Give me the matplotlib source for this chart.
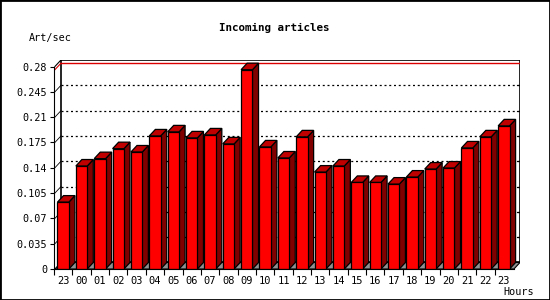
import matplotlib
matplotlib.use("Agg")
import matplotlib.pyplot as plt
from matplotlib.patches import Polygon, Rectangle

# articles per second for each hour (first bar is yesterday's 23h)
hours = ['23', '00', '01', '02', '03', '04', '05', '06', '07', '08', '09', '10',
         '11', '12', '13', '14', '15', '16', '17', '18', '19', '20', '21', '22', '23']
rate = [0.0925, 0.1424, 0.1526, 0.1664, 0.1618, 0.184, 0.1896, 0.1813, 0.1854,
        0.173, 0.2756, 0.1688, 0.1535, 0.1827, 0.134, 0.1424, 0.1197, 0.1197,
        0.1174, 0.1271, 0.1382, 0.1396, 0.1674, 0.1827, 0.1979]
yticks = [0, 0.035, 0.07, 0.105, 0.14, 0.175, 0.21, 0.245, 0.28]
ytick_labels = ['0', '0.035', '0.07', '0.105', '0.14', '0.175', '0.21', '0.245', '0.28']

ymax = 0.28
# depth of the fake 3d in data units
dx = 0.33
dy = 0.009
bw = 0.62
xl, xr = -0.45, len(rate) - 0.45

mono = 'DejaVu Sans Mono'
plt.rcParams['font.family'] = mono

fig = plt.figure(figsize=(5.5, 3), dpi=100)
W, H = 550, 300
ax = fig.add_axes([54 / W, 31 / H, 466 / W, 209 / H])
ax.set_xlim(xl, xr + dx)
ax.set_ylim(0, ymax + dy)
ax.patch.set_visible(False)

for s in ['top', 'right']:
    ax.spines[s].set_visible(False)
ax.spines['left'].set_bounds(0, ymax)
ax.spines['bottom'].set_bounds(xl, xr)
ax.spines['left'].set_zorder(6)
ax.spines['bottom'].set_zorder(6)

# back wall
back = Rectangle((xl + dx, dy), xr - xl, ymax, facecolor='white', edgecolor='black', lw=1.2, zorder=0)
ax.add_patch(back)
# left wall top edge
ax.plot([xl, xl + dx], [ymax, ymax + dy], color='black', lw=0.8, zorder=1)

# grid lines on the back wall + little diagonal ticks on the side wall
for v in yticks[1:-1]:
    ax.plot([xl + dx, xr + dx], [v + dy, v + dy], color='black', lw=0.9,
            linestyle=(0, (1.6, 2.2)), zorder=1)
    ax.plot([xl, xl + dx], [v, v + dy], color='black', lw=0.6, zorder=1)
    ax.plot([xr + dx - 0.17, xr + dx], [v + dy, v + dy], color='black', lw=0.8, zorder=1)

# max line
peak = max(rate)
ax.plot([xl + dx, xr + dx], [peak + dy, peak + dy], color='#dd0000', lw=1.0, zorder=1)
ax.plot([xl, xl + dx], [peak, peak + dy], color='#dd0000', lw=0.8, zorder=1)

# floor
floor = Polygon([(xl, 0), (xr, 0), (xr + dx, dy), (xl + dx, dy)], closed=True,
                facecolor='#909090', edgecolor='black', lw=0.8, zorder=2)
ax.add_patch(floor)

x = list(range(len(rate)))
ax.bar(x, rate, width=bw, color='#ff0000', edgecolor='black', lw=0.9, zorder=4)
for i, v in zip(x, rate):
    x0, x1 = i - bw / 2, i + bw / 2
    top = Polygon([(x0, v), (x1, v), (x1 + dx, v + dy), (x0 + dx, v + dy)], closed=True,
                  facecolor='#c00000', edgecolor='black', lw=0.9, zorder=3)
    side = Polygon([(x1, 0), (x1 + dx, dy), (x1 + dx, v + dy), (x1, v)], closed=True,
                   facecolor='#800000', edgecolor='black', lw=0.9, zorder=3)
    ax.add_patch(side)
    ax.add_patch(top)

ax.set_yticks(yticks)
ax.set_yticklabels(ytick_labels)
ax.tick_params(axis='y', length=3, width=0.8, pad=2, labelsize=7.3)
ax.set_xticks(x)
ax.set_xticklabels(hours)
ax.set_xticks([i - 0.5 for i in range(len(rate))], minor=True)
ax.tick_params(axis='x', which='major', length=0, pad=5, labelsize=7.5)
ax.tick_params(axis='x', which='minor', length=4, width=0.8)

fig.text(274 / W, 1 - 28 / H, 'Incoming articles', ha='center', va='center',
         fontsize=7.8, fontweight='bold')
fig.text(29 / W, 1 - 38 / H, 'Art/sec', ha='left', va='center', fontsize=7.3)
fig.text(534 / W, 1 - 292 / H, 'Hours', ha='right', va='center', fontsize=7.3)

fig.patches.append(Rectangle((0, 0), 1, 1, transform=fig.transFigure, fill=False,
                             edgecolor='black', lw=2))

plt.savefig('out.png', dpi=100)
